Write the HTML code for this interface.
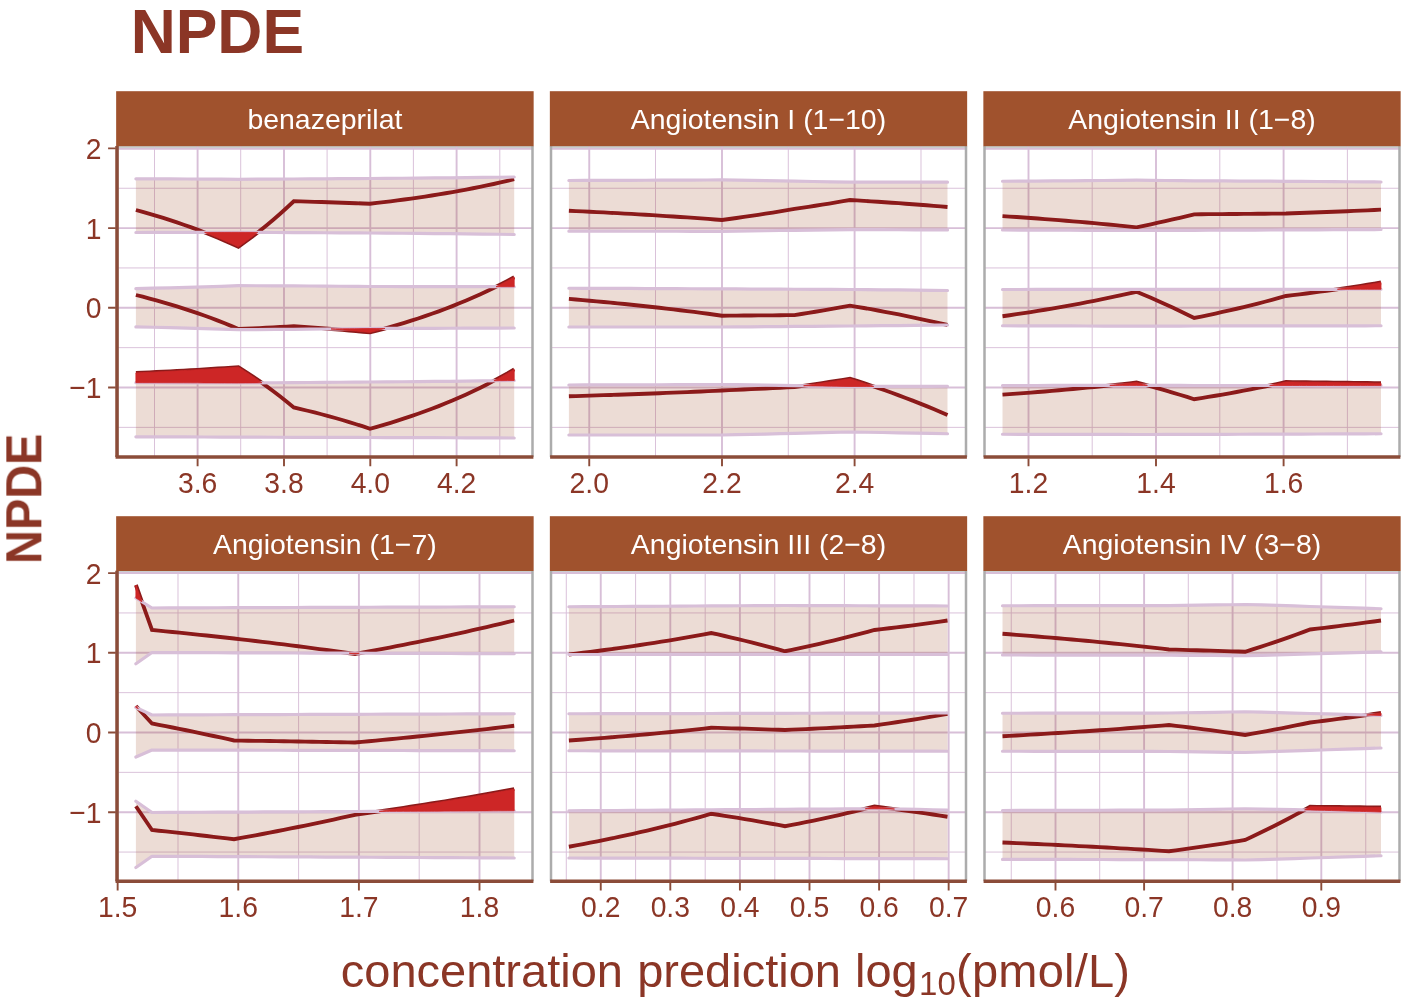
<!DOCTYPE html>
<html lang="en"><head><meta charset="utf-8"><title>NPDE</title>
<style>html,body{margin:0;padding:0;background:#fff}svg{display:block;will-change:transform}</style></head>
<body>
<svg width="1419" height="1007" viewBox="0 0 1419 1007" font-family="'Liberation Sans', Arial, Helvetica, sans-serif">
<rect width="1419" height="1007" fill="#ffffff"/>
<g opacity="0.999">
<g>
<path d="M117.3 147.1H532.5" fill="none" stroke="#C9CDCD" stroke-width="2"/>
<path d="M117.3 188.25H532.5M117.3 267.95H532.5M117.3 347.65H532.5M117.3 427.35H532.5M154.5 146.5V456.95M240.7 146.5V456.95M327.1 146.5V456.95M413.4 146.5V456.95M499.8 146.5V456.95" stroke="#D8BFD8" stroke-width="0.95" fill="none"/>
<path d="M117.3 148.85H532.5M117.3 228.1H532.5M117.3 307.8H532.5M117.3 387.5H532.5M197.6 146.5V456.95M284 146.5V456.95M370.3 146.5V456.95M456.6 146.5V456.95" stroke="#D8BFD8" stroke-width="1.9" fill="none"/>
<polygon points="135.9,178.8 153,178.87 170.1,178.94 187.2,179.02 204.2,179.1 221.3,179.2 238.4,179.3 256.9,179.21 275.3,179.11 293.8,179 309,178.92 324.2,178.82 339.5,178.72 354.8,178.62 370,178.5 386,178.38 402.1,178.26 418.1,178.12 434.1,177.97 450.1,177.81 466.2,177.63 482.2,177.44 498.2,177.23 514.2,177 514.2,234.5 498.2,234.27 482.2,234.06 466.2,233.87 450.1,233.69 434.1,233.53 418.1,233.38 402.1,233.24 386,233.12 370,233 354.8,232.91 339.5,232.82 324.2,232.74 309,232.67 293.8,232.6 275.3,232.49 256.9,232.39 238.4,232.3 221.3,232.34 204.2,232.38 187.2,232.41 170.1,232.45 153,232.47 135.9,232.5" fill="#A0522D" fill-opacity="0.2"/>
<polygon points="135.9,288.6 153,288.22 170.1,287.8 187.2,287.35 204.2,286.85 221.3,286.3 238.4,285.7 256.9,285.76 275.3,285.83 293.8,285.9 309,286 324.2,286.11 339.5,286.23 354.8,286.36 370,286.5 386,286.52 402.1,286.54 418.1,286.56 434.1,286.59 450.1,286.62 466.2,286.64 482.2,286.68 498.2,286.71 514.2,286.75 514.2,328 498.2,328.08 482.2,328.15 466.2,328.21 450.1,328.27 434.1,328.32 418.1,328.37 402.1,328.42 386,328.46 370,328.5 354.8,328.69 339.5,328.86 324.2,329.02 309,329.16 293.8,329.3 275.3,329.45 256.9,329.58 238.4,329.7 221.3,329.12 204.2,328.59 187.2,328.11 170.1,327.67 153,327.27 135.9,326.9" fill="#A0522D" fill-opacity="0.2"/>
<polygon points="135.9,382.7 153,382.74 170.1,382.78 187.2,382.83 204.2,382.88 221.3,382.94 238.4,383 256.9,382.88 275.3,382.75 293.8,382.6 309,382.5 324.2,382.39 339.5,382.27 354.8,382.14 370,382 386,381.88 402.1,381.76 418.1,381.62 434.1,381.47 450.1,381.31 466.2,381.13 482.2,380.94 498.2,380.73 514.2,380.5 514.2,438 498.2,437.92 482.2,437.85 466.2,437.79 450.1,437.73 434.1,437.68 418.1,437.63 402.1,437.58 386,437.54 370,437.5 354.8,437.45 339.5,437.41 324.2,437.37 309,437.33 293.8,437.3 275.3,437.23 256.9,437.16 238.4,437.1 221.3,437.04 204.2,436.98 187.2,436.93 170.1,436.88 153,436.84 135.9,436.8" fill="#A0522D" fill-opacity="0.2"/>
<polyline points="135.9,210 142.7,211.88 149.6,213.82 156.4,215.84 163.2,217.94 170.1,220.11 176.9,222.36 183.7,224.7 190.6,227.12 197.4,229.64 204.2,232.24 211.1,234.95 217.9,237.75 224.7,240.66 231.6,243.67 238.4,246.8 245.3,241.81 252.2,236.64 259.2,231.27 266.1,225.7 273,219.92 279.9,213.93 286.8,207.71 293.8,201.25 300.7,201.44 307.6,201.63 314.5,201.83 321.5,202.04 328.4,202.26 335.3,202.49 342.3,202.72 349.2,202.96 356.1,203.22 363.1,203.48 370,203.75 376.9,202.96 383.7,202.14 390.6,201.29 397.5,200.41 404.3,199.5 411.2,198.55 418.1,197.57 425,196.55 431.8,195.49 438.7,194.39 445.6,193.25 452.4,192.07 459.3,190.85 466.2,189.58 473,188.26 479.9,186.89 486.8,185.47 493.6,184 500.5,182.48 507.4,180.89 514.2,179.25" fill="none" stroke="#8B1A1A" stroke-width="3.85" stroke-linejoin="miter"/>
<polyline points="135.9,295 142.7,296.73 149.6,298.53 156.4,300.4 163.2,302.33 170.1,304.34 176.9,306.42 183.7,308.58 190.6,310.82 197.4,313.14 204.2,315.55 211.1,318.05 217.9,320.64 224.7,323.32 231.6,326.11 238.4,329 245.3,328.7 252.2,328.39 259.2,328.06 266.1,327.73 273,327.38 279.9,327.02 286.8,326.64 293.8,326.25 300.7,326.71 307.6,327.19 314.5,327.69 321.5,328.2 328.4,328.74 335.3,329.29 342.3,329.87 349.2,330.47 356.1,331.09 363.1,331.73 370,332.4 376.9,330.62 383.7,328.78 390.6,326.86 397.5,324.88 404.3,322.82 411.2,320.69 418.1,318.47 425,316.17 431.8,313.79 438.7,311.32 445.6,308.75 452.4,306.09 459.3,303.33 466.2,300.47 473,297.5 479.9,294.42 486.8,291.22 493.6,287.91 500.5,284.47 507.4,280.9 514.2,277.2" fill="none" stroke="#8B1A1A" stroke-width="3.85" stroke-linejoin="miter"/>
<polyline points="135.9,372.9 142.7,372.6 149.6,372.3 156.4,371.98 163.2,371.65 170.1,371.31 176.9,370.95 183.7,370.58 190.6,370.2 197.4,369.81 204.2,369.39 211.1,368.97 217.9,368.53 224.7,368.07 231.6,367.59 238.4,367.1 245.3,371.52 252.2,376.11 259.2,380.87 266.1,385.81 273,390.94 279.9,396.26 286.8,401.77 293.8,407.5 300.7,409.09 307.6,410.75 314.5,412.47 321.5,414.25 328.4,416.1 335.3,418.02 342.3,420.01 349.2,422.07 356.1,424.22 363.1,426.44 370,428.75 376.9,426.84 383.7,424.86 390.6,422.8 397.5,420.67 404.3,418.45 411.2,416.16 418.1,413.77 425,411.3 431.8,408.74 438.7,406.08 445.6,403.32 452.4,400.46 459.3,397.5 466.2,394.42 473,391.22 479.9,387.91 486.8,384.48 493.6,380.91 500.5,377.21 507.4,373.38 514.2,369.4" fill="none" stroke="#8B1A1A" stroke-width="3.85" stroke-linejoin="miter"/>
<polyline points="135.9,178.8 153,178.87 170.1,178.94 187.2,179.02 204.2,179.1 221.3,179.2 238.4,179.3 256.9,179.21 275.3,179.11 293.8,179 309,178.92 324.2,178.82 339.5,178.72 354.8,178.62 370,178.5 386,178.38 402.1,178.26 418.1,178.12 434.1,177.97 450.1,177.81 466.2,177.63 482.2,177.44 498.2,177.23 514.2,177" fill="none" stroke="#D8BFD8" stroke-width="3.2" stroke-linecap="round" stroke-linejoin="round"/>
<polyline points="135.9,232.5 153,232.47 170.1,232.45 187.2,232.41 204.2,232.38 221.3,232.34 238.4,232.3 256.9,232.39 275.3,232.49 293.8,232.6 309,232.67 324.2,232.74 339.5,232.82 354.8,232.91 370,233 386,233.12 402.1,233.24 418.1,233.38 434.1,233.53 450.1,233.69 466.2,233.87 482.2,234.06 498.2,234.27 514.2,234.5" fill="none" stroke="#D8BFD8" stroke-width="3.2" stroke-linecap="round" stroke-linejoin="round"/>
<polyline points="135.9,288.6 153,288.22 170.1,287.8 187.2,287.35 204.2,286.85 221.3,286.3 238.4,285.7 256.9,285.76 275.3,285.83 293.8,285.9 309,286 324.2,286.11 339.5,286.23 354.8,286.36 370,286.5 386,286.52 402.1,286.54 418.1,286.56 434.1,286.59 450.1,286.62 466.2,286.64 482.2,286.68 498.2,286.71 514.2,286.75" fill="none" stroke="#D8BFD8" stroke-width="3.2" stroke-linecap="round" stroke-linejoin="round"/>
<polyline points="135.9,326.9 153,327.27 170.1,327.67 187.2,328.11 204.2,328.59 221.3,329.12 238.4,329.7 256.9,329.58 275.3,329.45 293.8,329.3 309,329.16 324.2,329.02 339.5,328.86 354.8,328.69 370,328.5 386,328.46 402.1,328.42 418.1,328.37 434.1,328.32 450.1,328.27 466.2,328.21 482.2,328.15 498.2,328.08 514.2,328" fill="none" stroke="#D8BFD8" stroke-width="3.2" stroke-linecap="round" stroke-linejoin="round"/>
<polyline points="135.9,382.7 153,382.74 170.1,382.78 187.2,382.83 204.2,382.88 221.3,382.94 238.4,383 256.9,382.88 275.3,382.75 293.8,382.6 309,382.5 324.2,382.39 339.5,382.27 354.8,382.14 370,382 386,381.88 402.1,381.76 418.1,381.62 434.1,381.47 450.1,381.31 466.2,381.13 482.2,380.94 498.2,380.73 514.2,380.5" fill="none" stroke="#D8BFD8" stroke-width="3.2" stroke-linecap="round" stroke-linejoin="round"/>
<polyline points="135.9,436.8 153,436.84 170.1,436.88 187.2,436.93 204.2,436.98 221.3,437.04 238.4,437.1 256.9,437.16 275.3,437.23 293.8,437.3 309,437.33 324.2,437.37 339.5,437.41 354.8,437.45 370,437.5 386,437.54 402.1,437.58 418.1,437.63 434.1,437.68 450.1,437.73 466.2,437.79 482.2,437.85 498.2,437.92 514.2,438" fill="none" stroke="#D8BFD8" stroke-width="3.2" stroke-linecap="round" stroke-linejoin="round"/>
<polygon points="204.6,232.38 211.1,234.95 217.9,237.75 221.3,239.2 224.7,240.66 231.6,243.67 238.4,246.8 245.3,241.81 252.2,236.64 256.9,233.06 257.7,232.39 257.7,232.39 256.9,232.39 252.2,232.37 245.3,232.33 238.4,232.3 231.6,232.32 224.7,232.33 221.3,232.34 217.9,232.35 211.1,232.36 204.6,232.38" fill="#CD2626" stroke="#CD2626" stroke-width="0.8" stroke-linejoin="round"/>
<polygon points="496,286.71 498.2,285.61 500.5,284.47 507.4,280.9 514.2,277.2 514.2,286.75 507.4,286.73 500.5,286.72 498.2,286.71 496,286.71" fill="#CD2626" stroke="#CD2626" stroke-width="0.8" stroke-linejoin="round"/>
<polygon points="331,328.95 335.3,329.29 339.5,329.64 342.3,329.87 349.2,330.47 354.8,330.96 356.1,331.09 363.1,331.73 370,332.4 376.9,330.62 383.7,328.78 384.9,328.46 384.9,328.46 383.7,328.47 376.9,328.48 370,328.5 363.1,328.59 356.1,328.67 354.8,328.69 349.2,328.75 342.3,328.83 339.5,328.86 335.3,328.9 331,328.95" fill="#CD2626" stroke="#CD2626" stroke-width="0.8" stroke-linejoin="round"/>
<polygon points="135.9,372.9 142.7,372.6 149.6,372.3 153,372.14 156.4,371.98 163.2,371.65 170.1,371.31 176.9,370.95 183.7,370.58 187.2,370.39 190.6,370.2 197.4,369.81 204.2,369.39 211.1,368.97 217.9,368.53 221.3,368.3 224.7,368.07 231.6,367.59 238.4,367.1 245.3,371.52 252.2,376.11 256.9,379.28 259.2,380.87 261.9,382.84 261.9,382.84 259.2,382.86 256.9,382.88 252.2,382.91 245.3,382.95 238.4,383 231.6,382.98 224.7,382.95 221.3,382.94 217.9,382.93 211.1,382.9 204.2,382.88 197.4,382.86 190.6,382.84 187.2,382.83 183.7,382.82 176.9,382.8 170.1,382.78 163.2,382.77 156.4,382.75 153,382.74 149.6,382.73 142.7,382.72 135.9,382.7" fill="#CD2626" stroke="#CD2626" stroke-width="0.8" stroke-linejoin="round"/>
<polygon points="493.9,380.79 498.2,378.45 500.5,377.21 507.4,373.38 514.2,369.4 514.2,380.5 507.4,380.6 500.5,380.7 498.2,380.73 493.9,380.79" fill="#CD2626" stroke="#CD2626" stroke-width="0.8" stroke-linejoin="round"/>
<path d="M117.3 146.1V456.95M532.5 146.1V456.95" fill="none" stroke="#ACACAC" stroke-width="2.5"/>
<rect x="116.15" y="91.2" width="417.5" height="55" fill="#A0522D"/>
<text x="324.9" y="128.8" font-size="28.45" fill="#ffffff" text-anchor="middle" opacity="0.999">benazeprilat</text>
<path d="M115.55 456.95H533.4" stroke="#8B4C39" stroke-width="3.5" fill="none"/>
<path d="M197.6 458.45V466.15M284 458.45V466.15M370.3 458.45V466.15M456.6 458.45V466.15" stroke="#8B4C39" stroke-width="1.9" fill="none"/>
<text transform="translate(197.6,492.75) scale(1,1.07)" font-size="28.3" fill="#8B3626" text-anchor="middle">3.6</text>
<text transform="translate(284,492.75) scale(1,1.07)" font-size="28.3" fill="#8B3626" text-anchor="middle">3.8</text>
<text transform="translate(370.3,492.75) scale(1,1.07)" font-size="28.3" fill="#8B3626" text-anchor="middle">4.0</text>
<text transform="translate(456.6,492.75) scale(1,1.07)" font-size="28.3" fill="#8B3626" text-anchor="middle">4.2</text>
<path d="M117 145.9V456.95" stroke="#8B4C39" stroke-width="3.5" fill="none"/>
<path d="M108.1 148.4H115.8M108.1 228.1H115.8M108.1 307.8H115.8M108.1 387.5H115.8" stroke="#8B4C39" stroke-width="1.9" fill="none"/>
<text transform="translate(101.4,158.8) scale(1,1.07)" font-size="28.3" fill="#8B3626" text-anchor="end">2</text>
<text transform="translate(101.4,238.5) scale(1,1.07)" font-size="28.3" fill="#8B3626" text-anchor="end">1</text>
<text transform="translate(101.4,318.2) scale(1,1.07)" font-size="28.3" fill="#8B3626" text-anchor="end">0</text>
<text transform="translate(101.4,397.9) scale(1,1.07)" font-size="28.3" fill="#8B3626" text-anchor="end">−1</text>
</g>
<g>
<path d="M551 147.1H966" fill="none" stroke="#C9CDCD" stroke-width="2"/>
<path d="M551 188.25H966M551 267.95H966M551 347.65H966M551 427.35H966M655.5 146.5V456.95M788.3 146.5V456.95M921 146.5V456.95" stroke="#D8BFD8" stroke-width="0.95" fill="none"/>
<path d="M551 148.85H966M551 228.1H966M551 307.8H966M551 387.5H966M589.25 146.5V456.95M722 146.5V456.95M854.6 146.5V456.95" stroke="#D8BFD8" stroke-width="1.9" fill="none"/>
<polygon points="568.9,180.5 584.2,180.45 599.5,180.4 614.8,180.35 630.1,180.3 645.5,180.24 660.8,180.18 676.1,180.11 691.4,180.05 706.7,179.98 722,179.9 736.5,180.13 751,180.38 765.5,180.64 780,180.91 794.5,181.2 813,181.51 831.5,181.85 850,182.2 866.2,182.2 882.5,182.2 898.8,182.2 915,182.2 931.2,182.2 947.5,182.2 947.5,229.9 931.2,229.84 915,229.79 898.8,229.74 882.5,229.69 866.2,229.64 850,229.6 831.5,229.85 813,230.08 794.5,230.3 780,230.52 765.5,230.73 751,230.93 736.5,231.12 722,231.3 706.7,231.29 691.4,231.28 676.1,231.26 660.8,231.25 645.5,231.24 630.1,231.23 614.8,231.22 599.5,231.22 584.2,231.21 568.9,231.2" fill="#A0522D" fill-opacity="0.2"/>
<polygon points="568.9,288.25 584.2,288.3 599.5,288.35 614.8,288.41 630.1,288.47 645.5,288.53 660.8,288.6 676.1,288.67 691.4,288.74 706.7,288.82 722,288.9 736.5,288.96 751,289.03 765.5,289.1 780,289.17 794.5,289.25 813,289.33 831.5,289.41 850,289.5 866.2,289.64 882.5,289.8 898.8,289.96 915,290.13 931.2,290.31 947.5,290.5 947.5,325 931.2,325.19 915,325.37 898.8,325.54 882.5,325.7 866.2,325.86 850,326 831.5,326.14 813,326.28 794.5,326.4 780,326.53 765.5,326.66 751,326.78 736.5,326.89 722,327 706.7,327 691.4,327 676.1,327 660.8,327 645.5,327 630.1,327 614.8,327 599.5,327 584.2,327 568.9,327" fill="#A0522D" fill-opacity="0.2"/>
<polygon points="568.9,385 584.2,384.96 599.5,384.92 614.8,384.88 630.1,384.83 645.5,384.78 660.8,384.73 676.1,384.68 691.4,384.62 706.7,384.56 722,384.5 736.5,384.7 751,384.91 765.5,385.13 780,385.36 794.5,385.6 813,385.88 831.5,386.18 850,386.5 866.2,386.46 882.5,386.43 898.8,386.39 915,386.34 931.2,386.3 947.5,386.25 947.5,433.75 931.2,433.42 915,433.1 898.8,432.8 882.5,432.52 866.2,432.25 850,432 831.5,432.46 813,432.89 794.5,433.3 780,433.68 765.5,434.03 751,434.37 736.5,434.69 722,435 706.7,435 691.4,435 676.1,435 660.8,435 645.5,435 630.1,435 614.8,435 599.5,435 584.2,435 568.9,435" fill="#A0522D" fill-opacity="0.2"/>
<polyline points="568.9,210.75 575.9,211.07 582.8,211.4 589.8,211.74 596.7,212.09 603.7,212.44 610.7,212.81 617.6,213.18 624.6,213.56 631.5,213.95 638.5,214.35 645.5,214.76 652.4,215.18 659.4,215.62 666.3,216.06 673.3,216.51 680.2,216.97 687.2,217.45 694.2,217.93 701.1,218.43 708.1,218.94 715,219.46 722,220 729.2,219.01 736.5,218 743.8,216.96 751,215.89 758.2,214.8 765.5,213.68 772.8,212.53 780,211.35 787.2,210.14 794.5,208.9 801.4,207.88 808.4,206.83 815.3,205.76 822.2,204.66 829.2,203.54 836.1,202.39 843.1,201.21 850,200 857,200.43 863.9,200.86 870.9,201.31 877.9,201.76 884.8,202.23 891.8,202.71 898.8,203.2 905.7,203.71 912.7,204.22 919.6,204.75 926.6,205.29 933.6,205.85 940.5,206.42 947.5,207" fill="none" stroke="#8B1A1A" stroke-width="3.85" stroke-linejoin="miter"/>
<polyline points="568.9,298.95 575.9,299.53 582.8,300.13 589.8,300.74 596.7,301.37 603.7,302.02 610.7,302.67 617.6,303.35 624.6,304.04 631.5,304.75 638.5,305.47 645.5,306.22 652.4,306.98 659.4,307.76 666.3,308.56 673.3,309.38 680.2,310.22 687.2,311.08 694.2,311.96 701.1,312.86 708.1,313.78 715,314.73 722,315.7 729.2,315.65 736.5,315.59 743.8,315.54 751,315.48 758.2,315.42 765.5,315.36 772.8,315.3 780,315.23 787.2,315.17 794.5,315.1 801.4,314.01 808.4,312.89 815.3,311.75 822.2,310.58 829.2,309.38 836.1,308.15 843.1,306.89 850,305.6 857,306.78 863.9,307.99 870.9,309.22 877.9,310.49 884.8,311.79 891.8,313.12 898.8,314.48 905.7,315.88 912.7,317.31 919.6,318.77 926.6,320.27 933.6,321.81 940.5,323.39 947.5,325" fill="none" stroke="#8B1A1A" stroke-width="3.85" stroke-linejoin="miter"/>
<polyline points="568.9,396.25 575.9,396.05 582.8,395.84 589.8,395.63 596.7,395.42 603.7,395.2 610.7,394.97 617.6,394.74 624.6,394.5 631.5,394.26 638.5,394.01 645.5,393.75 652.4,393.49 659.4,393.23 666.3,392.95 673.3,392.67 680.2,392.38 687.2,392.09 694.2,391.78 701.1,391.48 708.1,391.16 715,390.83 722,390.5 729.2,390.19 736.5,389.87 743.8,389.54 751,389.2 758.2,388.86 765.5,388.51 772.8,388.14 780,387.77 787.2,387.39 794.5,387 801.4,386.05 808.4,385.07 815.3,384.07 822.2,383.05 829.2,382 836.1,380.93 843.1,379.83 850,378.7 857,380.91 863.9,383.16 870.9,385.48 877.9,387.85 884.8,390.28 891.8,392.77 898.8,395.32 905.7,397.93 912.7,400.61 919.6,403.35 926.6,406.16 933.6,409.03 940.5,411.98 947.5,415" fill="none" stroke="#8B1A1A" stroke-width="3.85" stroke-linejoin="miter"/>
<polyline points="568.9,180.5 584.2,180.45 599.5,180.4 614.8,180.35 630.1,180.3 645.5,180.24 660.8,180.18 676.1,180.11 691.4,180.05 706.7,179.98 722,179.9 736.5,180.13 751,180.38 765.5,180.64 780,180.91 794.5,181.2 813,181.51 831.5,181.85 850,182.2 866.2,182.2 882.5,182.2 898.8,182.2 915,182.2 931.2,182.2 947.5,182.2" fill="none" stroke="#D8BFD8" stroke-width="3.2" stroke-linecap="round" stroke-linejoin="round"/>
<polyline points="568.9,231.2 584.2,231.21 599.5,231.22 614.8,231.22 630.1,231.23 645.5,231.24 660.8,231.25 676.1,231.26 691.4,231.28 706.7,231.29 722,231.3 736.5,231.12 751,230.93 765.5,230.73 780,230.52 794.5,230.3 813,230.08 831.5,229.85 850,229.6 866.2,229.64 882.5,229.69 898.8,229.74 915,229.79 931.2,229.84 947.5,229.9" fill="none" stroke="#D8BFD8" stroke-width="3.2" stroke-linecap="round" stroke-linejoin="round"/>
<polyline points="568.9,288.25 584.2,288.3 599.5,288.35 614.8,288.41 630.1,288.47 645.5,288.53 660.8,288.6 676.1,288.67 691.4,288.74 706.7,288.82 722,288.9 736.5,288.96 751,289.03 765.5,289.1 780,289.17 794.5,289.25 813,289.33 831.5,289.41 850,289.5 866.2,289.64 882.5,289.8 898.8,289.96 915,290.13 931.2,290.31 947.5,290.5" fill="none" stroke="#D8BFD8" stroke-width="3.2" stroke-linecap="round" stroke-linejoin="round"/>
<polyline points="568.9,327 584.2,327 599.5,327 614.8,327 630.1,327 645.5,327 660.8,327 676.1,327 691.4,327 706.7,327 722,327 736.5,326.89 751,326.78 765.5,326.66 780,326.53 794.5,326.4 813,326.28 831.5,326.14 850,326 866.2,325.86 882.5,325.7 898.8,325.54 915,325.37 931.2,325.19 947.5,325" fill="none" stroke="#D8BFD8" stroke-width="3.2" stroke-linecap="round" stroke-linejoin="round"/>
<polyline points="568.9,385 584.2,384.96 599.5,384.92 614.8,384.88 630.1,384.83 645.5,384.78 660.8,384.73 676.1,384.68 691.4,384.62 706.7,384.56 722,384.5 736.5,384.7 751,384.91 765.5,385.13 780,385.36 794.5,385.6 813,385.88 831.5,386.18 850,386.5 866.2,386.46 882.5,386.43 898.8,386.39 915,386.34 931.2,386.3 947.5,386.25" fill="none" stroke="#D8BFD8" stroke-width="3.2" stroke-linecap="round" stroke-linejoin="round"/>
<polyline points="568.9,435 584.2,435 599.5,435 614.8,435 630.1,435 645.5,435 660.8,435 676.1,435 691.4,435 706.7,435 722,435 736.5,434.69 751,434.37 765.5,434.03 780,433.68 794.5,433.3 813,432.89 831.5,432.46 850,432 866.2,432.25 882.5,432.52 898.8,432.8 915,433.1 931.2,433.42 947.5,433.75" fill="none" stroke="#D8BFD8" stroke-width="3.2" stroke-linecap="round" stroke-linejoin="round"/>
<polygon points="803.6,385.74 808.4,385.07 813,384.41 815.3,384.07 822.2,383.05 829.2,382 831.5,381.64 836.1,380.93 843.1,379.83 850,378.7 857,380.91 863.9,383.16 866.2,383.94 870.9,385.48 873.7,386.45 873.7,386.45 870.9,386.45 866.2,386.46 863.9,386.47 857,386.48 850,386.5 843.1,386.38 836.1,386.26 831.5,386.18 829.2,386.14 822.2,386.03 815.3,385.92 813,385.88 808.4,385.81 803.6,385.74" fill="#CD2626" stroke="#CD2626" stroke-width="0.8" stroke-linejoin="round"/>
<path d="M551 146.1V456.95M966 146.1V456.95" fill="none" stroke="#ACACAC" stroke-width="2.5"/>
<rect x="549.85" y="91.2" width="417.3" height="55" fill="#A0522D"/>
<text x="758.5" y="128.8" font-size="28.45" fill="#ffffff" text-anchor="middle" opacity="0.999">Angiotensin I (1−10)</text>
<path d="M550.1 456.95H966.9" stroke="#8B4C39" stroke-width="3.5" fill="none"/>
<path d="M589.25 458.45V466.15M722 458.45V466.15M854.6 458.45V466.15" stroke="#8B4C39" stroke-width="1.9" fill="none"/>
<text transform="translate(589.25,492.75) scale(1,1.07)" font-size="28.3" fill="#8B3626" text-anchor="middle">2.0</text>
<text transform="translate(722,492.75) scale(1,1.07)" font-size="28.3" fill="#8B3626" text-anchor="middle">2.2</text>
<text transform="translate(854.6,492.75) scale(1,1.07)" font-size="28.3" fill="#8B3626" text-anchor="middle">2.4</text>
</g>
<g>
<path d="M984.5 147.1H1399.5" fill="none" stroke="#C9CDCD" stroke-width="2"/>
<path d="M984.5 188.25H1399.5M984.5 267.95H1399.5M984.5 347.65H1399.5M984.5 427.35H1399.5M1092.2 146.5V456.95M1219.8 146.5V456.95M1347.4 146.5V456.95" stroke="#D8BFD8" stroke-width="0.95" fill="none"/>
<path d="M984.5 148.85H1399.5M984.5 228.1H1399.5M984.5 307.8H1399.5M984.5 387.5H1399.5M1028.5 146.5V456.95M1156 146.5V456.95M1283.6 146.5V456.95" stroke="#D8BFD8" stroke-width="1.9" fill="none"/>
<polygon points="1002.5,181.25 1019.2,181.14 1036,181.03 1052.8,180.91 1069.5,180.79 1086.2,180.65 1103,180.51 1119.8,180.36 1136.5,180.2 1150.9,180.34 1165.3,180.48 1179.8,180.64 1194.2,180.8 1209.5,180.87 1224.8,180.95 1240.1,181.03 1255.4,181.11 1270.7,181.2 1286,181.3 1301.8,181.4 1317.7,181.51 1333.5,181.62 1349.3,181.74 1365.2,181.87 1381,182 1381,229.5 1365.2,229.58 1349.3,229.65 1333.5,229.72 1317.7,229.78 1301.8,229.84 1286,229.9 1270.7,229.98 1255.4,230.05 1240.1,230.12 1224.8,230.18 1209.5,230.24 1194.2,230.3 1179.8,230.35 1165.3,230.41 1150.9,230.45 1136.5,230.5 1119.8,230.42 1103,230.35 1086.2,230.28 1069.5,230.22 1052.8,230.16 1036,230.1 1019.2,230.05 1002.5,230" fill="#A0522D" fill-opacity="0.2"/>
<polygon points="1002.5,289.5 1019.2,289.48 1036,289.46 1052.8,289.44 1069.5,289.41 1086.2,289.39 1103,289.36 1119.8,289.33 1136.5,289.3 1150.9,289.32 1165.3,289.35 1179.8,289.37 1194.2,289.4 1209.5,289.39 1224.8,289.37 1240.1,289.35 1255.4,289.34 1270.7,289.32 1286,289.3 1301.8,289.29 1317.7,289.29 1333.5,289.28 1349.3,289.27 1365.2,289.26 1381,289.25 1381,325.75 1365.2,325.78 1349.3,325.81 1333.5,325.83 1317.7,325.86 1301.8,325.88 1286,325.9 1270.7,325.92 1255.4,325.94 1240.1,325.95 1224.8,325.97 1209.5,325.99 1194.2,326 1179.8,326.05 1165.3,326.11 1150.9,326.15 1136.5,326.2 1119.8,326.13 1103,326.07 1086.2,326.01 1069.5,325.95 1052.8,325.89 1036,325.84 1019.2,325.8 1002.5,325.75" fill="#A0522D" fill-opacity="0.2"/>
<polygon points="1002.5,385.5 1019.2,385.49 1036,385.48 1052.8,385.47 1069.5,385.46 1086.2,385.44 1103,385.43 1119.8,385.42 1136.5,385.4 1150.9,385.42 1165.3,385.45 1179.8,385.47 1194.2,385.5 1209.5,385.5 1224.8,385.5 1240.1,385.5 1255.4,385.5 1270.7,385.5 1286,385.5 1301.8,385.51 1317.7,385.53 1333.5,385.55 1349.3,385.56 1365.2,385.58 1381,385.6 1381,433.75 1365.2,433.82 1349.3,433.88 1333.5,433.94 1317.7,434 1301.8,434.05 1286,434.1 1270.7,434.16 1255.4,434.21 1240.1,434.26 1224.8,434.31 1209.5,434.36 1194.2,434.4 1179.8,434.43 1165.3,434.45 1150.9,434.48 1136.5,434.5 1119.8,434.46 1103,434.43 1086.2,434.39 1069.5,434.36 1052.8,434.33 1036,434.3 1019.2,434.28 1002.5,434.25" fill="#A0522D" fill-opacity="0.2"/>
<polyline points="1002.5,216.1 1009.6,216.56 1016.6,217.04 1023.7,217.53 1030.7,218.03 1037.8,218.54 1044.8,219.07 1051.9,219.61 1058.9,220.17 1066,220.74 1073,221.32 1080.1,221.92 1087.1,222.53 1094.2,223.16 1101.2,223.81 1108.3,224.47 1115.3,225.15 1122.4,225.85 1129.4,226.57 1136.5,227.3 1143.7,225.82 1150.9,224.3 1158.1,222.74 1165.3,221.14 1172.6,219.49 1179.8,217.81 1187,216.08 1194.2,214.3 1201.3,214.25 1208.3,214.19 1215.4,214.14 1222.4,214.08 1229.5,214.02 1236.6,213.96 1243.6,213.9 1250.7,213.84 1257.8,213.77 1264.8,213.71 1271.9,213.64 1278.9,213.57 1286,213.5 1292.8,213.27 1299.6,213.03 1306.4,212.79 1313.1,212.54 1319.9,212.29 1326.7,212.03 1333.5,211.76 1340.3,211.49 1347.1,211.21 1353.9,210.92 1360.6,210.63 1367.4,210.33 1374.2,210.02 1381,209.7" fill="none" stroke="#8B1A1A" stroke-width="3.85" stroke-linejoin="miter"/>
<polyline points="1002.5,316.25 1009.6,315.23 1016.6,314.19 1023.7,313.12 1030.7,312.03 1037.8,310.9 1044.8,309.75 1051.9,308.57 1058.9,307.35 1066,306.11 1073,304.83 1080.1,303.52 1087.1,302.18 1094.2,300.8 1101.2,299.39 1108.3,297.94 1115.3,296.45 1122.4,294.92 1129.4,293.36 1136.5,291.75 1143.7,294.74 1150.9,297.81 1158.1,300.96 1165.3,304.19 1172.6,307.51 1179.8,310.92 1187,314.41 1194.2,318 1201.3,316.55 1208.3,315.07 1215.4,313.55 1222.4,311.99 1229.5,310.39 1236.6,308.75 1243.6,307.06 1250.7,305.33 1257.8,303.56 1264.8,301.74 1271.9,299.88 1278.9,297.96 1286,296 1292.8,295.18 1299.6,294.34 1306.4,293.48 1313.1,292.6 1319.9,291.7 1326.7,290.78 1333.5,289.83 1340.3,288.86 1347.1,287.86 1353.9,286.84 1360.6,285.79 1367.4,284.72 1374.2,283.63 1381,282.5" fill="none" stroke="#8B1A1A" stroke-width="3.85" stroke-linejoin="miter"/>
<polyline points="1002.5,394.7 1009.6,394.19 1016.6,393.68 1023.7,393.14 1030.7,392.6 1037.8,392.04 1044.8,391.46 1051.9,390.87 1058.9,390.27 1066,389.65 1073,389.01 1080.1,388.36 1087.1,387.69 1094.2,387.01 1101.2,386.3 1108.3,385.58 1115.3,384.84 1122.4,384.08 1129.4,383.3 1136.5,382.5 1143.7,384.41 1150.9,386.37 1158.1,388.38 1165.3,390.44 1172.6,392.56 1179.8,394.73 1187,396.96 1194.2,399.25 1201.3,398.12 1208.3,396.95 1215.4,395.76 1222.4,394.54 1229.5,393.28 1236.6,391.99 1243.6,390.67 1250.7,389.32 1257.8,387.93 1264.8,386.5 1271.9,385.04 1278.9,383.54 1286,382 1292.8,382.08 1299.6,382.15 1306.4,382.23 1313.1,382.31 1319.9,382.4 1326.7,382.48 1333.5,382.57 1340.3,382.66 1347.1,382.75 1353.9,382.85 1360.6,382.94 1367.4,383.04 1374.2,383.15 1381,383.25" fill="none" stroke="#8B1A1A" stroke-width="3.85" stroke-linejoin="miter"/>
<polyline points="1002.5,181.25 1019.2,181.14 1036,181.03 1052.8,180.91 1069.5,180.79 1086.2,180.65 1103,180.51 1119.8,180.36 1136.5,180.2 1150.9,180.34 1165.3,180.48 1179.8,180.64 1194.2,180.8 1209.5,180.87 1224.8,180.95 1240.1,181.03 1255.4,181.11 1270.7,181.2 1286,181.3 1301.8,181.4 1317.7,181.51 1333.5,181.62 1349.3,181.74 1365.2,181.87 1381,182" fill="none" stroke="#D8BFD8" stroke-width="3.2" stroke-linecap="round" stroke-linejoin="round"/>
<polyline points="1002.5,230 1019.2,230.05 1036,230.1 1052.8,230.16 1069.5,230.22 1086.2,230.28 1103,230.35 1119.8,230.42 1136.5,230.5 1150.9,230.45 1165.3,230.41 1179.8,230.35 1194.2,230.3 1209.5,230.24 1224.8,230.18 1240.1,230.12 1255.4,230.05 1270.7,229.98 1286,229.9 1301.8,229.84 1317.7,229.78 1333.5,229.72 1349.3,229.65 1365.2,229.58 1381,229.5" fill="none" stroke="#D8BFD8" stroke-width="3.2" stroke-linecap="round" stroke-linejoin="round"/>
<polyline points="1002.5,289.5 1019.2,289.48 1036,289.46 1052.8,289.44 1069.5,289.41 1086.2,289.39 1103,289.36 1119.8,289.33 1136.5,289.3 1150.9,289.32 1165.3,289.35 1179.8,289.37 1194.2,289.4 1209.5,289.39 1224.8,289.37 1240.1,289.35 1255.4,289.34 1270.7,289.32 1286,289.3 1301.8,289.29 1317.7,289.29 1333.5,289.28 1349.3,289.27 1365.2,289.26 1381,289.25" fill="none" stroke="#D8BFD8" stroke-width="3.2" stroke-linecap="round" stroke-linejoin="round"/>
<polyline points="1002.5,325.75 1019.2,325.8 1036,325.84 1052.8,325.89 1069.5,325.95 1086.2,326.01 1103,326.07 1119.8,326.13 1136.5,326.2 1150.9,326.15 1165.3,326.11 1179.8,326.05 1194.2,326 1209.5,325.99 1224.8,325.97 1240.1,325.95 1255.4,325.94 1270.7,325.92 1286,325.9 1301.8,325.88 1317.7,325.86 1333.5,325.83 1349.3,325.81 1365.2,325.78 1381,325.75" fill="none" stroke="#D8BFD8" stroke-width="3.2" stroke-linecap="round" stroke-linejoin="round"/>
<polyline points="1002.5,385.5 1019.2,385.49 1036,385.48 1052.8,385.47 1069.5,385.46 1086.2,385.44 1103,385.43 1119.8,385.42 1136.5,385.4 1150.9,385.42 1165.3,385.45 1179.8,385.47 1194.2,385.5 1209.5,385.5 1224.8,385.5 1240.1,385.5 1255.4,385.5 1270.7,385.5 1286,385.5 1301.8,385.51 1317.7,385.53 1333.5,385.55 1349.3,385.56 1365.2,385.58 1381,385.6" fill="none" stroke="#D8BFD8" stroke-width="3.2" stroke-linecap="round" stroke-linejoin="round"/>
<polyline points="1002.5,434.25 1019.2,434.28 1036,434.3 1052.8,434.33 1069.5,434.36 1086.2,434.39 1103,434.43 1119.8,434.46 1136.5,434.5 1150.9,434.48 1165.3,434.45 1179.8,434.43 1194.2,434.4 1209.5,434.36 1224.8,434.31 1240.1,434.26 1255.4,434.21 1270.7,434.16 1286,434.1 1301.8,434.05 1317.7,434 1333.5,433.94 1349.3,433.88 1365.2,433.82 1381,433.75" fill="none" stroke="#D8BFD8" stroke-width="3.2" stroke-linecap="round" stroke-linejoin="round"/>
<polygon points="1337.4,289.28 1340.3,288.86 1347.1,287.86 1349.3,287.52 1353.9,286.84 1360.6,285.79 1365.2,285.08 1367.4,284.72 1374.2,283.63 1381,282.5 1381,289.25 1374.2,289.25 1367.4,289.26 1365.2,289.26 1360.6,289.26 1353.9,289.27 1349.3,289.27 1347.1,289.27 1340.3,289.27 1337.4,289.28" fill="#CD2626" stroke="#CD2626" stroke-width="0.8" stroke-linejoin="round"/>
<polygon points="1109.8,385.42 1115.3,384.84 1119.8,384.36 1122.4,384.08 1129.4,383.3 1136.5,382.5 1143.7,384.41 1147.4,385.42 1147.4,385.42 1143.7,385.41 1136.5,385.4 1129.4,385.41 1122.4,385.41 1119.8,385.42 1115.3,385.42 1109.8,385.42" fill="#CD2626" stroke="#CD2626" stroke-width="0.8" stroke-linejoin="round"/>
<polygon points="1269.7,385.5 1270.7,385.28 1271.9,385.04 1278.9,383.54 1286,382 1292.8,382.08 1299.6,382.15 1301.8,382.18 1306.4,382.23 1313.1,382.31 1317.7,382.37 1319.9,382.4 1326.7,382.48 1333.5,382.57 1340.3,382.66 1347.1,382.75 1349.3,382.79 1353.9,382.85 1360.6,382.94 1365.2,383.01 1367.4,383.04 1374.2,383.15 1381,383.25 1381,385.6 1374.2,385.59 1367.4,385.58 1365.2,385.58 1360.6,385.58 1353.9,385.57 1349.3,385.56 1347.1,385.56 1340.3,385.55 1333.5,385.55 1326.7,385.54 1319.9,385.53 1317.7,385.53 1313.1,385.53 1306.4,385.52 1301.8,385.51 1299.6,385.51 1292.8,385.51 1286,385.5 1278.9,385.5 1271.9,385.5 1270.7,385.5 1269.7,385.5" fill="#CD2626" stroke="#CD2626" stroke-width="0.8" stroke-linejoin="round"/>
<path d="M984.5 146.1V456.95M1399.5 146.1V456.95" fill="none" stroke="#ACACAC" stroke-width="2.5"/>
<rect x="983.35" y="91.2" width="417.3" height="55" fill="#A0522D"/>
<text x="1192" y="128.8" font-size="28.45" fill="#ffffff" text-anchor="middle" opacity="0.999">Angiotensin II (1−8)</text>
<path d="M983.6 456.95H1400.4" stroke="#8B4C39" stroke-width="3.5" fill="none"/>
<path d="M1028.5 458.45V466.15M1156 458.45V466.15M1283.6 458.45V466.15" stroke="#8B4C39" stroke-width="1.9" fill="none"/>
<text transform="translate(1028.5,492.75) scale(1,1.07)" font-size="28.3" fill="#8B3626" text-anchor="middle">1.2</text>
<text transform="translate(1156,492.75) scale(1,1.07)" font-size="28.3" fill="#8B3626" text-anchor="middle">1.4</text>
<text transform="translate(1283.6,492.75) scale(1,1.07)" font-size="28.3" fill="#8B3626" text-anchor="middle">1.6</text>
</g>
<g>
<path d="M117.3 571.9H532.5" fill="none" stroke="#C9CDCD" stroke-width="2"/>
<path d="M117.3 612.95H532.5M117.3 692.65H532.5M117.3 772.35H532.5M117.3 852.05H532.5M178 571.3V881.3M298.6 571.3V881.3M419.2 571.3V881.3" stroke="#D8BFD8" stroke-width="0.95" fill="none"/>
<path d="M117.3 573.05H532.5M117.3 652.8H532.5M117.3 732.5H532.5M117.3 812.2H532.5M238.25 571.3V881.3M358.9 571.3V881.3M479.5 571.3V881.3" stroke="#D8BFD8" stroke-width="1.9" fill="none"/>
<polygon points="135.9,598 152,608 168.4,607.94 184.8,607.89 201.2,607.83 217.6,607.76 234,607.7 249.1,607.65 264.2,607.61 279.4,607.56 294.5,607.51 309.6,607.46 324.8,607.41 339.9,607.36 355,607.3 370.9,607.25 386.9,607.2 402.8,607.15 418.7,607.1 434.6,607.05 450.6,606.99 466.5,606.93 482.4,606.87 498.3,606.81 514.2,606.75 514.2,653.75 498.3,653.69 482.4,653.63 466.5,653.57 450.6,653.51 434.6,653.45 418.7,653.4 402.8,653.35 386.9,653.3 370.9,653.25 355,653.2 339.9,653.14 324.8,653.09 309.6,653.04 294.5,652.99 279.4,652.94 264.2,652.89 249.1,652.85 234,652.8 217.6,652.74 201.2,652.67 184.8,652.61 168.4,652.56 152,652.5 135.9,663.75" fill="#A0522D" fill-opacity="0.2"/>
<polygon points="135.9,707.5 152,715 168.4,714.94 184.8,714.89 201.2,714.83 217.6,714.76 234,714.7 249.1,714.65 264.2,714.61 279.4,714.56 294.5,714.51 309.6,714.46 324.8,714.41 339.9,714.36 355,714.3 370.9,714.25 386.9,714.2 402.8,714.15 418.7,714.1 434.6,714.05 450.6,713.99 466.5,713.93 482.4,713.87 498.3,713.81 514.2,713.75 514.2,750.75 498.3,750.71 482.4,750.67 466.5,750.63 450.6,750.6 434.6,750.56 418.7,750.53 402.8,750.49 386.9,750.46 370.9,750.43 355,750.4 339.9,750.37 324.8,750.35 309.6,750.32 294.5,750.29 279.4,750.27 264.2,750.25 249.1,750.22 234,750.2 217.6,750.16 201.2,750.12 184.8,750.08 168.4,750.04 152,750 135.9,757" fill="#A0522D" fill-opacity="0.2"/>
<polygon points="135.9,801.25 152,812.5 168.4,812.42 184.8,812.35 201.2,812.27 217.6,812.19 234,812.1 249.1,812.03 264.2,811.96 279.4,811.89 294.5,811.82 309.6,811.74 324.8,811.66 339.9,811.58 355,811.5 370.9,811.43 386.9,811.37 402.8,811.3 418.7,811.23 434.6,811.15 450.6,811.08 466.5,811 482.4,810.92 498.3,810.84 514.2,810.75 514.2,858 498.3,857.91 482.4,857.82 466.5,857.73 450.6,857.65 434.6,857.57 418.7,857.49 402.8,857.42 386.9,857.34 370.9,857.27 355,857.2 339.9,857.12 324.8,857.04 309.6,856.96 294.5,856.88 279.4,856.81 264.2,856.74 249.1,856.67 234,856.6 217.6,856.53 201.2,856.45 184.8,856.38 168.4,856.32 152,856.25 135.9,867.5" fill="#A0522D" fill-opacity="0.2"/>
<polyline points="135.9,585 143.9,607.33 152,630 158.8,630.66 165.7,631.33 172.5,632 179.3,632.69 186.2,633.38 193,634.08 199.8,634.8 206.7,635.52 213.5,636.25 220.3,636.99 227.2,637.74 234,638.5 241.1,639.32 248.2,640.14 255.4,640.98 262.5,641.83 269.6,642.69 276.7,643.57 283.8,644.45 290.9,645.35 298.1,646.26 305.2,647.18 312.3,648.12 319.4,649.06 326.5,650.02 333.6,651 340.8,651.99 347.9,652.99 355,654 361.9,652.75 368.8,651.47 375.8,650.19 382.7,648.88 389.6,647.56 396.5,646.22 403.5,644.86 410.4,643.48 417.3,642.09 424.2,640.68 431.2,639.24 438.1,637.79 445,636.32 451.9,634.83 458.9,633.32 465.8,631.79 472.7,630.24 479.6,628.67 486.6,627.08 493.5,625.47 500.4,623.83 507.3,622.18 514.2,620.5" fill="none" stroke="#8B1A1A" stroke-width="3.85" stroke-linejoin="miter"/>
<polyline points="135.9,706 143.9,714.68 152,723.5 158.8,724.82 165.7,726.15 172.5,727.5 179.3,728.87 186.2,730.26 193,731.67 199.8,733.09 206.7,734.54 213.5,736 220.3,737.48 227.2,738.98 234,740.5 241.1,740.61 248.2,740.71 255.4,740.82 262.5,740.93 269.6,741.04 276.7,741.15 283.8,741.27 290.9,741.38 298.1,741.5 305.2,741.62 312.3,741.74 319.4,741.86 326.5,741.99 333.6,742.11 340.8,742.24 347.9,742.37 355,742.5 361.9,741.87 368.8,741.24 375.8,740.59 382.7,739.94 389.6,739.28 396.5,738.61 403.5,737.93 410.4,737.24 417.3,736.54 424.2,735.84 431.2,735.12 438.1,734.4 445,733.66 451.9,732.92 458.9,732.16 465.8,731.4 472.7,730.62 479.6,729.84 486.6,729.04 493.5,728.23 500.4,727.42 507.3,726.59 514.2,725.75" fill="none" stroke="#8B1A1A" stroke-width="3.85" stroke-linejoin="miter"/>
<polyline points="135.9,806.25 143.9,818.03 152,830 158.8,830.72 165.7,831.44 172.5,832.18 179.3,832.92 186.2,833.68 193,834.44 199.8,835.22 206.7,836 213.5,836.8 220.3,837.61 227.2,838.42 234,839.25 241.1,837.96 248.2,836.66 255.4,835.34 262.5,833.99 269.6,832.64 276.7,831.26 283.8,829.86 290.9,828.45 298.1,827.01 305.2,825.56 312.3,824.08 319.4,822.59 326.5,821.07 333.6,819.54 340.8,817.98 347.9,816.4 355,814.8 361.9,813.84 368.8,812.87 375.8,811.89 382.7,810.89 389.6,809.88 396.5,808.85 403.5,807.82 410.4,806.76 417.3,805.7 424.2,804.62 431.2,803.52 438.1,802.41 445,801.29 451.9,800.15 458.9,799 465.8,797.83 472.7,796.65 479.6,795.45 486.6,794.23 493.5,793 500.4,791.75 507.3,790.48 514.2,789.2" fill="none" stroke="#8B1A1A" stroke-width="3.85" stroke-linejoin="miter"/>
<polyline points="135.9,598 152,608 168.4,607.94 184.8,607.89 201.2,607.83 217.6,607.76 234,607.7 249.1,607.65 264.2,607.61 279.4,607.56 294.5,607.51 309.6,607.46 324.8,607.41 339.9,607.36 355,607.3 370.9,607.25 386.9,607.2 402.8,607.15 418.7,607.1 434.6,607.05 450.6,606.99 466.5,606.93 482.4,606.87 498.3,606.81 514.2,606.75" fill="none" stroke="#D8BFD8" stroke-width="3.2" stroke-linecap="round" stroke-linejoin="round"/>
<polyline points="135.9,663.75 152,652.5 168.4,652.56 184.8,652.61 201.2,652.67 217.6,652.74 234,652.8 249.1,652.85 264.2,652.89 279.4,652.94 294.5,652.99 309.6,653.04 324.8,653.09 339.9,653.14 355,653.2 370.9,653.25 386.9,653.3 402.8,653.35 418.7,653.4 434.6,653.45 450.6,653.51 466.5,653.57 482.4,653.63 498.3,653.69 514.2,653.75" fill="none" stroke="#D8BFD8" stroke-width="3.2" stroke-linecap="round" stroke-linejoin="round"/>
<polyline points="135.9,707.5 152,715 168.4,714.94 184.8,714.89 201.2,714.83 217.6,714.76 234,714.7 249.1,714.65 264.2,714.61 279.4,714.56 294.5,714.51 309.6,714.46 324.8,714.41 339.9,714.36 355,714.3 370.9,714.25 386.9,714.2 402.8,714.15 418.7,714.1 434.6,714.05 450.6,713.99 466.5,713.93 482.4,713.87 498.3,713.81 514.2,713.75" fill="none" stroke="#D8BFD8" stroke-width="3.2" stroke-linecap="round" stroke-linejoin="round"/>
<polyline points="135.9,757 152,750 168.4,750.04 184.8,750.08 201.2,750.12 217.6,750.16 234,750.2 249.1,750.22 264.2,750.25 279.4,750.27 294.5,750.29 309.6,750.32 324.8,750.35 339.9,750.37 355,750.4 370.9,750.43 386.9,750.46 402.8,750.49 418.7,750.53 434.6,750.56 450.6,750.6 466.5,750.63 482.4,750.67 498.3,750.71 514.2,750.75" fill="none" stroke="#D8BFD8" stroke-width="3.2" stroke-linecap="round" stroke-linejoin="round"/>
<polyline points="135.9,801.25 152,812.5 168.4,812.42 184.8,812.35 201.2,812.27 217.6,812.19 234,812.1 249.1,812.03 264.2,811.96 279.4,811.89 294.5,811.82 309.6,811.74 324.8,811.66 339.9,811.58 355,811.5 370.9,811.43 386.9,811.37 402.8,811.3 418.7,811.23 434.6,811.15 450.6,811.08 466.5,811 482.4,810.92 498.3,810.84 514.2,810.75" fill="none" stroke="#D8BFD8" stroke-width="3.2" stroke-linecap="round" stroke-linejoin="round"/>
<polyline points="135.9,867.5 152,856.25 168.4,856.32 184.8,856.38 201.2,856.45 217.6,856.53 234,856.6 249.1,856.67 264.2,856.74 279.4,856.81 294.5,856.88 309.6,856.96 324.8,857.04 339.9,857.12 355,857.2 370.9,857.27 386.9,857.34 402.8,857.42 418.7,857.49 434.6,857.57 450.6,857.65 466.5,857.73 482.4,857.82 498.3,857.91 514.2,858" fill="none" stroke="#D8BFD8" stroke-width="3.2" stroke-linecap="round" stroke-linejoin="round"/>
<polygon points="135.9,585 141.9,601.75 141.9,601.75 135.9,598" fill="#CD2626" stroke="#CD2626" stroke-width="0.8" stroke-linejoin="round"/>
<polygon points="349.2,653.18 355,654 359.3,653.21 359.3,653.21 355,653.2 349.2,653.18" fill="#CD2626" stroke="#CD2626" stroke-width="0.8" stroke-linejoin="round"/>
<polygon points="135.9,706 138.3,708.64 138.3,708.64 135.9,707.5" fill="#CD2626" stroke="#CD2626" stroke-width="0.8" stroke-linejoin="round"/>
<polygon points="379.1,811.4 382.7,810.89 386.9,810.28 389.6,809.88 396.5,808.85 402.8,807.92 403.5,807.82 410.4,806.76 417.3,805.7 418.7,805.48 424.2,804.62 431.2,803.52 434.6,802.97 438.1,802.41 445,801.29 450.6,800.38 451.9,800.15 458.9,799 465.8,797.83 466.5,797.71 472.7,796.65 479.6,795.45 482.4,794.96 486.6,794.23 493.5,793 498.3,792.12 500.4,791.75 507.3,790.48 514.2,789.2 514.2,810.75 507.3,810.79 500.4,810.82 498.3,810.84 493.5,810.86 486.6,810.9 482.4,810.92 479.6,810.93 472.7,810.97 466.5,811 465.8,811 458.9,811.04 451.9,811.07 450.6,811.08 445,811.1 438.1,811.14 434.6,811.15 431.2,811.17 424.2,811.2 418.7,811.23 417.3,811.23 410.4,811.26 403.5,811.3 402.8,811.3 396.5,811.33 389.6,811.36 386.9,811.37 382.7,811.39 379.1,811.4" fill="#CD2626" stroke="#CD2626" stroke-width="0.8" stroke-linejoin="round"/>
<path d="M117.3 570.9V881.3M532.5 570.9V881.3" fill="none" stroke="#ACACAC" stroke-width="2.5"/>
<rect x="116.15" y="516.2" width="417.5" height="54.8" fill="#A0522D"/>
<text x="324.9" y="553.8" font-size="28.45" fill="#ffffff" text-anchor="middle" opacity="0.999">Angiotensin (1−7)</text>
<path d="M115.55 881.3H533.4" stroke="#8B4C39" stroke-width="3.5" fill="none"/>
<path d="M117.65 882.8V890.5M238.25 882.8V890.5M358.9 882.8V890.5M479.5 882.8V890.5" stroke="#8B4C39" stroke-width="1.9" fill="none"/>
<text transform="translate(117.65,917.1) scale(1,1.07)" font-size="28.3" fill="#8B3626" text-anchor="middle">1.5</text>
<text transform="translate(238.25,917.1) scale(1,1.07)" font-size="28.3" fill="#8B3626" text-anchor="middle">1.6</text>
<text transform="translate(358.9,917.1) scale(1,1.07)" font-size="28.3" fill="#8B3626" text-anchor="middle">1.7</text>
<text transform="translate(479.5,917.1) scale(1,1.07)" font-size="28.3" fill="#8B3626" text-anchor="middle">1.8</text>
<path d="M117 570.7V881.3" stroke="#8B4C39" stroke-width="3.5" fill="none"/>
<path d="M108.1 573.1H115.8M108.1 652.8H115.8M108.1 732.5H115.8M108.1 812.2H115.8" stroke="#8B4C39" stroke-width="1.9" fill="none"/>
<text transform="translate(101.4,583.5) scale(1,1.07)" font-size="28.3" fill="#8B3626" text-anchor="end">2</text>
<text transform="translate(101.4,663.2) scale(1,1.07)" font-size="28.3" fill="#8B3626" text-anchor="end">1</text>
<text transform="translate(101.4,742.9) scale(1,1.07)" font-size="28.3" fill="#8B3626" text-anchor="end">0</text>
<text transform="translate(101.4,822.6) scale(1,1.07)" font-size="28.3" fill="#8B3626" text-anchor="end">−1</text>
</g>
<g>
<path d="M551 571.9H966" fill="none" stroke="#C9CDCD" stroke-width="2"/>
<path d="M551 612.95H966M551 692.65H966M551 772.35H966M551 852.05H966M566.3 571.3V881.3M635.6 571.3V881.3M705.2 571.3V881.3M774.8 571.3V881.3M844.4 571.3V881.3M914 571.3V881.3" stroke="#D8BFD8" stroke-width="0.95" fill="none"/>
<path d="M551 573.05H966M551 652.8H966M551 732.5H966M551 812.2H966M600.75 571.3V881.3M670.3 571.3V881.3M739.9 571.3V881.3M809.5 571.3V881.3M879.1 571.3V881.3M948.65 571.3V881.3" stroke="#D8BFD8" stroke-width="1.9" fill="none"/>
<polygon points="568.9,606.75 584.7,606.67 600.5,606.59 616.4,606.51 632.2,606.42 648,606.33 663.8,606.23 679.6,606.12 695.4,606.02 711.2,605.9 726,605.83 740.8,605.75 755.5,605.67 770.2,605.59 785,605.5 799.9,605.54 814.8,605.59 829.8,605.64 844.7,605.69 859.6,605.74 874.5,605.8 889.1,605.84 903.7,605.87 918.3,605.91 932.9,605.96 947.5,606 947.5,654.5 932.9,654.5 918.3,654.5 903.7,654.5 889.1,654.5 874.5,654.5 859.6,654.5 844.7,654.5 829.8,654.5 814.8,654.5 799.9,654.5 785,654.5 770.2,654.5 755.5,654.5 740.8,654.5 726,654.5 711.2,654.5 695.4,654.5 679.6,654.5 663.8,654.5 648,654.5 632.2,654.5 616.4,654.5 600.5,654.5 584.7,654.5 568.9,654.5" fill="#A0522D" fill-opacity="0.2"/>
<polygon points="568.9,713.75 584.7,713.73 600.5,713.7 616.4,713.68 632.2,713.65 648,713.63 663.8,713.6 679.6,713.57 695.4,713.53 711.2,713.5 726,713.46 740.8,713.43 755.5,713.39 770.2,713.34 785,713.3 799.9,713.27 814.8,713.24 829.8,713.21 844.7,713.17 859.6,713.14 874.5,713.1 889.1,713.08 903.7,713.06 918.3,713.04 932.9,713.02 947.5,713 947.5,751.25 932.9,751.22 918.3,751.19 903.7,751.16 889.1,751.13 874.5,751.1 859.6,751.08 844.7,751.06 829.8,751.05 814.8,751.03 799.9,751.01 785,751 770.2,750.98 755.5,750.96 740.8,750.94 726,750.92 711.2,750.9 695.4,750.88 679.6,750.86 663.8,750.84 648,750.82 632.2,750.81 616.4,750.79 600.5,750.78 584.7,750.76 568.9,750.75" fill="#A0522D" fill-opacity="0.2"/>
<polygon points="568.9,810.75 584.7,810.67 600.5,810.58 616.4,810.48 632.2,810.38 648,810.28 663.8,810.17 679.6,810.05 695.4,809.93 711.2,809.8 726,809.71 740.8,809.61 755.5,809.51 770.2,809.41 785,809.3 799.9,809.22 814.8,809.13 829.8,809.05 844.7,808.95 859.6,808.85 874.5,808.75 889.1,808.98 903.7,809.21 918.3,809.46 932.9,809.73 947.5,810 947.5,858.75 932.9,858.72 918.3,858.69 903.7,858.66 889.1,858.63 874.5,858.6 859.6,858.56 844.7,858.53 829.8,858.49 814.8,858.46 799.9,858.43 785,858.4 770.2,858.38 755.5,858.36 740.8,858.34 726,858.32 711.2,858.3 695.4,858.26 679.6,858.22 663.8,858.18 648,858.15 632.2,858.12 616.4,858.08 600.5,858.06 584.7,858.03 568.9,858" fill="#A0522D" fill-opacity="0.2"/>
<polyline points="568.9,654.5 576,653.65 583.1,652.78 590.3,651.88 597.4,650.97 604.5,650.03 611.6,649.08 618.7,648.1 625.8,647.09 633,646.06 640.1,645.01 647.2,643.93 654.3,642.83 661.4,641.7 668.5,640.54 675.7,639.36 682.8,638.15 689.9,636.9 697,635.63 704.1,634.33 711.2,633 718,634.48 724.7,636 731.4,637.54 738.1,639.13 744.8,640.75 751.5,642.4 758.2,644.09 764.9,645.82 771.6,647.59 778.3,649.4 785,651.25 791.9,649.83 798.8,648.38 805.7,646.89 812.5,645.37 819.4,643.81 826.3,642.22 833.2,640.59 840.1,638.93 847,637.22 853.8,635.48 860.7,633.69 867.6,631.87 874.5,630 881.8,629.15 889.1,628.28 896.4,627.39 903.7,626.47 911,625.54 918.3,624.58 925.6,623.59 932.9,622.59 940.2,621.56 947.5,620.5" fill="none" stroke="#8B1A1A" stroke-width="3.85" stroke-linejoin="miter"/>
<polyline points="568.9,740.5 576,739.99 583.1,739.48 590.3,738.95 597.4,738.41 604.5,737.85 611.6,737.28 618.7,736.7 625.8,736.11 633,735.5 640.1,734.87 647.2,734.23 654.3,733.58 661.4,732.91 668.5,732.22 675.7,731.52 682.8,730.8 689.9,730.07 697,729.31 704.1,728.54 711.2,727.75 718,727.93 724.7,728.12 731.4,728.31 738.1,728.51 744.8,728.7 751.5,728.91 758.2,729.12 764.9,729.33 771.6,729.55 778.3,729.77 785,730 791.9,729.7 798.8,729.39 805.7,729.08 812.5,728.75 819.4,728.42 826.3,728.09 833.2,727.74 840.1,727.39 847,727.03 853.8,726.66 860.7,726.28 867.6,725.9 874.5,725.5 881.8,724.45 889.1,723.37 896.4,722.27 903.7,721.14 911,719.98 918.3,718.79 925.6,717.58 932.9,716.33 940.2,715.06 947.5,713.75" fill="none" stroke="#8B1A1A" stroke-width="3.85" stroke-linejoin="miter"/>
<polyline points="568.9,846.75 576,845.44 583.1,844.1 590.3,842.73 597.4,841.33 604.5,839.9 611.6,838.43 618.7,836.92 625.8,835.38 633,833.8 640.1,832.18 647.2,830.53 654.3,828.84 661.4,827.1 668.5,825.33 675.7,823.51 682.8,821.65 689.9,819.74 697,817.79 704.1,815.79 711.2,813.75 718,814.76 724.7,815.8 731.4,816.86 738.1,817.95 744.8,819.06 751.5,820.19 758.2,821.35 764.9,822.53 771.6,823.74 778.3,824.98 785,826.25 791.9,824.93 798.8,823.58 805.7,822.2 812.5,820.78 819.4,819.34 826.3,817.86 833.2,816.34 840.1,814.8 847,813.21 853.8,811.59 860.7,809.93 867.6,808.24 874.5,806.5 881.8,807.42 889.1,808.36 896.4,809.32 903.7,810.31 911,811.32 918.3,812.35 925.6,813.41 932.9,814.5 940.2,815.61 947.5,816.75" fill="none" stroke="#8B1A1A" stroke-width="3.85" stroke-linejoin="miter"/>
<polyline points="568.9,606.75 584.7,606.67 600.5,606.59 616.4,606.51 632.2,606.42 648,606.33 663.8,606.23 679.6,606.12 695.4,606.02 711.2,605.9 726,605.83 740.8,605.75 755.5,605.67 770.2,605.59 785,605.5 799.9,605.54 814.8,605.59 829.8,605.64 844.7,605.69 859.6,605.74 874.5,605.8 889.1,605.84 903.7,605.87 918.3,605.91 932.9,605.96 947.5,606" fill="none" stroke="#D8BFD8" stroke-width="3.2" stroke-linecap="round" stroke-linejoin="round"/>
<polyline points="568.9,654.5 584.7,654.5 600.5,654.5 616.4,654.5 632.2,654.5 648,654.5 663.8,654.5 679.6,654.5 695.4,654.5 711.2,654.5 726,654.5 740.8,654.5 755.5,654.5 770.2,654.5 785,654.5 799.9,654.5 814.8,654.5 829.8,654.5 844.7,654.5 859.6,654.5 874.5,654.5 889.1,654.5 903.7,654.5 918.3,654.5 932.9,654.5 947.5,654.5" fill="none" stroke="#D8BFD8" stroke-width="3.2" stroke-linecap="round" stroke-linejoin="round"/>
<polyline points="568.9,713.75 584.7,713.73 600.5,713.7 616.4,713.68 632.2,713.65 648,713.63 663.8,713.6 679.6,713.57 695.4,713.53 711.2,713.5 726,713.46 740.8,713.43 755.5,713.39 770.2,713.34 785,713.3 799.9,713.27 814.8,713.24 829.8,713.21 844.7,713.17 859.6,713.14 874.5,713.1 889.1,713.08 903.7,713.06 918.3,713.04 932.9,713.02 947.5,713" fill="none" stroke="#D8BFD8" stroke-width="3.2" stroke-linecap="round" stroke-linejoin="round"/>
<polyline points="568.9,750.75 584.7,750.76 600.5,750.78 616.4,750.79 632.2,750.81 648,750.82 663.8,750.84 679.6,750.86 695.4,750.88 711.2,750.9 726,750.92 740.8,750.94 755.5,750.96 770.2,750.98 785,751 799.9,751.01 814.8,751.03 829.8,751.05 844.7,751.06 859.6,751.08 874.5,751.1 889.1,751.13 903.7,751.16 918.3,751.19 932.9,751.22 947.5,751.25" fill="none" stroke="#D8BFD8" stroke-width="3.2" stroke-linecap="round" stroke-linejoin="round"/>
<polyline points="568.9,810.75 584.7,810.67 600.5,810.58 616.4,810.48 632.2,810.38 648,810.28 663.8,810.17 679.6,810.05 695.4,809.93 711.2,809.8 726,809.71 740.8,809.61 755.5,809.51 770.2,809.41 785,809.3 799.9,809.22 814.8,809.13 829.8,809.05 844.7,808.95 859.6,808.85 874.5,808.75 889.1,808.98 903.7,809.21 918.3,809.46 932.9,809.73 947.5,810" fill="none" stroke="#D8BFD8" stroke-width="3.2" stroke-linecap="round" stroke-linejoin="round"/>
<polyline points="568.9,858 584.7,858.03 600.5,858.06 616.4,858.08 632.2,858.12 648,858.15 663.8,858.18 679.6,858.22 695.4,858.26 711.2,858.3 726,858.32 740.8,858.34 755.5,858.36 770.2,858.38 785,858.4 799.9,858.43 814.8,858.46 829.8,858.49 844.7,858.53 859.6,858.56 874.5,858.6 889.1,858.63 903.7,858.66 918.3,858.69 932.9,858.72 947.5,858.75" fill="none" stroke="#D8BFD8" stroke-width="3.2" stroke-linecap="round" stroke-linejoin="round"/>
<polygon points="865.3,808.81 867.6,808.24 874.5,806.5 881.8,807.42 889.1,808.36 894.5,809.06 894.5,809.06 889.1,808.98 881.8,808.86 874.5,808.75 867.6,808.8 865.3,808.81" fill="#CD2626" stroke="#CD2626" stroke-width="0.8" stroke-linejoin="round"/>
<path d="M551 570.9V881.3M966 570.9V881.3" fill="none" stroke="#ACACAC" stroke-width="2.5"/>
<rect x="549.85" y="516.2" width="417.3" height="54.8" fill="#A0522D"/>
<text x="758.5" y="553.8" font-size="28.45" fill="#ffffff" text-anchor="middle" opacity="0.999">Angiotensin III (2−8)</text>
<path d="M550.1 881.3H966.9" stroke="#8B4C39" stroke-width="3.5" fill="none"/>
<path d="M600.75 882.8V890.5M670.3 882.8V890.5M739.9 882.8V890.5M809.5 882.8V890.5M879.1 882.8V890.5M948.65 882.8V890.5" stroke="#8B4C39" stroke-width="1.9" fill="none"/>
<text transform="translate(600.75,917.1) scale(1,1.07)" font-size="28.3" fill="#8B3626" text-anchor="middle">0.2</text>
<text transform="translate(670.3,917.1) scale(1,1.07)" font-size="28.3" fill="#8B3626" text-anchor="middle">0.3</text>
<text transform="translate(739.9,917.1) scale(1,1.07)" font-size="28.3" fill="#8B3626" text-anchor="middle">0.4</text>
<text transform="translate(809.5,917.1) scale(1,1.07)" font-size="28.3" fill="#8B3626" text-anchor="middle">0.5</text>
<text transform="translate(879.1,917.1) scale(1,1.07)" font-size="28.3" fill="#8B3626" text-anchor="middle">0.6</text>
<text transform="translate(948.65,917.1) scale(1,1.07)" font-size="28.3" fill="#8B3626" text-anchor="middle">0.7</text>
</g>
<g>
<path d="M984.5 571.9H1399.5" fill="none" stroke="#C9CDCD" stroke-width="2"/>
<path d="M984.5 612.95H1399.5M984.5 692.65H1399.5M984.5 772.35H1399.5M984.5 852.05H1399.5M1011.25 571.3V881.3M1099.7 571.3V881.3M1188.3 571.3V881.3M1277 571.3V881.3M1365.75 571.3V881.3" stroke="#D8BFD8" stroke-width="0.95" fill="none"/>
<path d="M984.5 573.05H1399.5M984.5 652.8H1399.5M984.5 732.5H1399.5M984.5 812.2H1399.5M1055.5 571.3V881.3M1144.1 571.3V881.3M1232.6 571.3V881.3M1321.3 571.3V881.3" stroke="#D8BFD8" stroke-width="1.9" fill="none"/>
<polygon points="1002.5,605.75 1019.1,605.74 1035.8,605.72 1052.5,605.71 1069.1,605.7 1085.8,605.68 1102.4,605.67 1119,605.65 1135.7,605.64 1152.3,605.62 1169,605.6 1184.2,605.4 1199.5,605.19 1214.8,604.97 1230,604.74 1245.2,604.5 1261.5,604.97 1277.8,605.46 1294,605.97 1310.2,606.5 1327.9,607.02 1345.6,607.57 1363.3,608.15 1381,608.75 1381,651.75 1363.3,652.3 1345.6,652.82 1327.9,653.32 1310.2,653.8 1294,654.32 1277.8,654.82 1261.5,655.29 1245.2,655.75 1230,655.63 1214.8,655.52 1199.5,655.41 1184.2,655.3 1169,655.2 1152.3,655.18 1135.7,655.15 1119,655.13 1102.4,655.11 1085.8,655.09 1069.1,655.07 1052.5,655.05 1035.8,655.03 1019.1,655.02 1002.5,655" fill="#A0522D" fill-opacity="0.2"/>
<polygon points="1002.5,713.25 1019.1,713.23 1035.8,713.21 1052.5,713.19 1069.1,713.16 1085.8,713.14 1102.4,713.11 1119,713.09 1135.7,713.06 1152.3,713.03 1169,713 1184.2,712.77 1199.5,712.53 1214.8,712.28 1230,712.02 1245.2,711.75 1261.5,712.16 1277.8,712.59 1294,713.03 1310.2,713.5 1327.9,713.97 1345.6,714.45 1363.3,714.97 1381,715.5 1381,748 1363.3,748.62 1345.6,749.2 1327.9,749.76 1310.2,750.3 1294,750.89 1277.8,751.45 1261.5,751.98 1245.2,752.5 1230,752.28 1214.8,752.08 1199.5,751.88 1184.2,751.68 1169,751.5 1152.3,751.47 1135.7,751.44 1119,751.41 1102.4,751.39 1085.8,751.36 1069.1,751.34 1052.5,751.31 1035.8,751.29 1019.1,751.27 1002.5,751.25" fill="#A0522D" fill-opacity="0.2"/>
<polygon points="1002.5,810.5 1019.1,810.46 1035.8,810.42 1052.5,810.37 1069.1,810.33 1085.8,810.28 1102.4,810.23 1119,810.17 1135.7,810.12 1152.3,810.06 1169,810 1184.2,809.77 1199.5,809.53 1214.8,809.28 1230,809.02 1245.2,808.75 1261.5,809.04 1277.8,809.35 1294,809.67 1310.2,810 1327.9,810.47 1345.6,810.95 1363.3,811.47 1381,812 1381,855.75 1363.3,856.35 1345.6,856.93 1327.9,857.48 1310.2,858 1294,858.53 1277.8,859.04 1261.5,859.53 1245.2,860 1230,859.91 1214.8,859.83 1199.5,859.75 1184.2,859.67 1169,859.6 1152.3,859.58 1135.7,859.55 1119,859.53 1102.4,859.51 1085.8,859.49 1069.1,859.47 1052.5,859.45 1035.8,859.43 1019.1,859.42 1002.5,859.4" fill="#A0522D" fill-opacity="0.2"/>
<polyline points="1002.5,633.75 1009.4,634.28 1016.4,634.82 1023.3,635.37 1030.2,635.93 1037.2,636.49 1044.1,637.07 1051.1,637.66 1058,638.26 1064.9,638.87 1071.9,639.5 1078.8,640.13 1085.8,640.78 1092.7,641.43 1099.6,642.1 1106.6,642.78 1113.5,643.48 1120.4,644.18 1127.4,644.9 1134.3,645.63 1141.2,646.38 1148.2,647.14 1155.1,647.91 1162.1,648.7 1169,649.5 1175.9,649.69 1182.9,649.88 1189.8,650.07 1196.7,650.27 1203.7,650.47 1210.6,650.67 1217.5,650.88 1224.5,651.09 1231.4,651.31 1238.3,651.53 1245.2,651.75 1252.5,649.46 1259.7,647.13 1266.9,644.75 1274.1,642.32 1281.4,639.85 1288.6,637.34 1295.8,634.77 1303,632.16 1310.2,629.5 1317.3,628.67 1324.4,627.83 1331.5,626.97 1338.5,626.1 1345.6,625.21 1352.7,624.3 1359.8,623.38 1366.8,622.43 1373.9,621.48 1381,620.5" fill="none" stroke="#8B1A1A" stroke-width="3.85" stroke-linejoin="miter"/>
<polyline points="1002.5,736.25 1009.4,735.87 1016.4,735.49 1023.3,735.1 1030.2,734.7 1037.2,734.29 1044.1,733.88 1051.1,733.45 1058,733.03 1064.9,732.59 1071.9,732.14 1078.8,731.69 1085.8,731.23 1092.7,730.76 1099.6,730.28 1106.6,729.8 1113.5,729.3 1120.4,728.8 1127.4,728.28 1134.3,727.76 1141.2,727.23 1148.2,726.69 1155.1,726.13 1162.1,725.57 1169,725 1175.9,725.83 1182.9,726.67 1189.8,727.53 1196.7,728.41 1203.7,729.3 1210.6,730.21 1217.5,731.13 1224.5,732.07 1231.4,733.03 1238.3,734.01 1245.2,735 1252.5,733.71 1259.7,732.4 1266.9,731.07 1274.1,729.7 1281.4,728.32 1288.6,726.9 1295.8,725.46 1303,724 1310.2,722.5 1317.3,721.63 1324.4,720.74 1331.5,719.83 1338.5,718.91 1345.6,717.97 1352.7,717.01 1359.8,716.04 1366.8,715.04 1373.9,714.03 1381,713" fill="none" stroke="#8B1A1A" stroke-width="3.85" stroke-linejoin="miter"/>
<polyline points="1002.5,842.5 1009.4,842.79 1016.4,843.09 1023.3,843.4 1030.2,843.71 1037.2,844.02 1044.1,844.35 1051.1,844.67 1058,845.01 1064.9,845.35 1071.9,845.69 1078.8,846.05 1085.8,846.4 1092.7,846.77 1099.6,847.14 1106.6,847.52 1113.5,847.9 1120.4,848.3 1127.4,848.7 1134.3,849.1 1141.2,849.52 1148.2,849.94 1155.1,850.37 1162.1,850.8 1169,851.25 1175.9,850.32 1182.9,849.37 1189.8,848.4 1196.7,847.41 1203.7,846.41 1210.6,845.39 1217.5,844.35 1224.5,843.29 1231.4,842.21 1238.3,841.12 1245.2,840 1252.5,836.58 1259.7,833.09 1266.9,829.53 1274.1,825.91 1281.4,822.22 1288.6,818.46 1295.8,814.63 1303,810.73 1310.2,806.75 1317.3,806.82 1324.4,806.89 1331.5,806.96 1338.5,807.03 1345.6,807.11 1352.7,807.18 1359.8,807.26 1366.8,807.34 1373.9,807.42 1381,807.5" fill="none" stroke="#8B1A1A" stroke-width="3.85" stroke-linejoin="miter"/>
<polyline points="1002.5,605.75 1019.1,605.74 1035.8,605.72 1052.5,605.71 1069.1,605.7 1085.8,605.68 1102.4,605.67 1119,605.65 1135.7,605.64 1152.3,605.62 1169,605.6 1184.2,605.4 1199.5,605.19 1214.8,604.97 1230,604.74 1245.2,604.5 1261.5,604.97 1277.8,605.46 1294,605.97 1310.2,606.5 1327.9,607.02 1345.6,607.57 1363.3,608.15 1381,608.75" fill="none" stroke="#D8BFD8" stroke-width="3.2" stroke-linecap="round" stroke-linejoin="round"/>
<polyline points="1002.5,655 1019.1,655.02 1035.8,655.03 1052.5,655.05 1069.1,655.07 1085.8,655.09 1102.4,655.11 1119,655.13 1135.7,655.15 1152.3,655.18 1169,655.2 1184.2,655.3 1199.5,655.41 1214.8,655.52 1230,655.63 1245.2,655.75 1261.5,655.29 1277.8,654.82 1294,654.32 1310.2,653.8 1327.9,653.32 1345.6,652.82 1363.3,652.3 1381,651.75" fill="none" stroke="#D8BFD8" stroke-width="3.2" stroke-linecap="round" stroke-linejoin="round"/>
<polyline points="1002.5,713.25 1019.1,713.23 1035.8,713.21 1052.5,713.19 1069.1,713.16 1085.8,713.14 1102.4,713.11 1119,713.09 1135.7,713.06 1152.3,713.03 1169,713 1184.2,712.77 1199.5,712.53 1214.8,712.28 1230,712.02 1245.2,711.75 1261.5,712.16 1277.8,712.59 1294,713.03 1310.2,713.5 1327.9,713.97 1345.6,714.45 1363.3,714.97 1381,715.5" fill="none" stroke="#D8BFD8" stroke-width="3.2" stroke-linecap="round" stroke-linejoin="round"/>
<polyline points="1002.5,751.25 1019.1,751.27 1035.8,751.29 1052.5,751.31 1069.1,751.34 1085.8,751.36 1102.4,751.39 1119,751.41 1135.7,751.44 1152.3,751.47 1169,751.5 1184.2,751.68 1199.5,751.88 1214.8,752.08 1230,752.28 1245.2,752.5 1261.5,751.98 1277.8,751.45 1294,750.89 1310.2,750.3 1327.9,749.76 1345.6,749.2 1363.3,748.62 1381,748" fill="none" stroke="#D8BFD8" stroke-width="3.2" stroke-linecap="round" stroke-linejoin="round"/>
<polyline points="1002.5,810.5 1019.1,810.46 1035.8,810.42 1052.5,810.37 1069.1,810.33 1085.8,810.28 1102.4,810.23 1119,810.17 1135.7,810.12 1152.3,810.06 1169,810 1184.2,809.77 1199.5,809.53 1214.8,809.28 1230,809.02 1245.2,808.75 1261.5,809.04 1277.8,809.35 1294,809.67 1310.2,810 1327.9,810.47 1345.6,810.95 1363.3,811.47 1381,812" fill="none" stroke="#D8BFD8" stroke-width="3.2" stroke-linecap="round" stroke-linejoin="round"/>
<polyline points="1002.5,859.4 1019.1,859.42 1035.8,859.43 1052.5,859.45 1069.1,859.47 1085.8,859.49 1102.4,859.51 1119,859.53 1135.7,859.55 1152.3,859.58 1169,859.6 1184.2,859.67 1199.5,859.75 1214.8,859.83 1230,859.91 1245.2,860 1261.5,859.53 1277.8,859.04 1294,858.53 1310.2,858 1327.9,857.48 1345.6,856.93 1363.3,856.35 1381,855.75" fill="none" stroke="#D8BFD8" stroke-width="3.2" stroke-linecap="round" stroke-linejoin="round"/>
<polygon points="1366.7,715.07 1366.8,715.04 1373.9,714.03 1381,713 1381,715.5 1373.9,715.29 1366.8,715.07 1366.7,715.07" fill="#CD2626" stroke="#CD2626" stroke-width="0.8" stroke-linejoin="round"/>
<polygon points="1304.6,809.88 1310.2,806.75 1317.3,806.82 1324.4,806.89 1327.9,806.92 1331.5,806.96 1338.5,807.03 1345.6,807.11 1352.7,807.18 1359.8,807.26 1363.3,807.3 1366.8,807.34 1373.9,807.42 1381,807.5 1381,812 1373.9,811.79 1366.8,811.57 1363.3,811.47 1359.8,811.36 1352.7,811.16 1345.6,810.95 1338.5,810.76 1331.5,810.56 1327.9,810.47 1324.4,810.37 1317.3,810.19 1310.2,810 1304.6,809.88" fill="#CD2626" stroke="#CD2626" stroke-width="0.8" stroke-linejoin="round"/>
<path d="M984.5 570.9V881.3M1399.5 570.9V881.3" fill="none" stroke="#ACACAC" stroke-width="2.5"/>
<rect x="983.35" y="516.2" width="417.3" height="54.8" fill="#A0522D"/>
<text x="1192" y="553.8" font-size="28.45" fill="#ffffff" text-anchor="middle" opacity="0.999">Angiotensin IV (3−8)</text>
<path d="M983.6 881.3H1400.4" stroke="#8B4C39" stroke-width="3.5" fill="none"/>
<path d="M1055.5 882.8V890.5M1144.1 882.8V890.5M1232.6 882.8V890.5M1321.3 882.8V890.5" stroke="#8B4C39" stroke-width="1.9" fill="none"/>
<text transform="translate(1055.5,917.1) scale(1,1.07)" font-size="28.3" fill="#8B3626" text-anchor="middle">0.6</text>
<text transform="translate(1144.1,917.1) scale(1,1.07)" font-size="28.3" fill="#8B3626" text-anchor="middle">0.7</text>
<text transform="translate(1232.6,917.1) scale(1,1.07)" font-size="28.3" fill="#8B3626" text-anchor="middle">0.8</text>
<text transform="translate(1321.3,917.1) scale(1,1.07)" font-size="28.3" fill="#8B3626" text-anchor="middle">0.9</text>
</g>
<text transform="translate(130.7,53.3) scale(1,1.004)" font-size="62.4" fill="#8B3626" font-weight="bold">NPDE</text>
<text transform="translate(41.0,498.7) rotate(-90) scale(1,1.083)" font-size="46.9" font-weight="bold" fill="#8B3626" text-anchor="middle">NPDE</text>
<text x="340.75" y="986.8" font-size="47" fill="#8B3626">concentration<tspan dx="1.2"> prediction</tspan><tspan dx="1"> log</tspan><tspan font-size="33" dx="1.3" dy="8.3">10</tspan><tspan dx="0.3" dy="-8.3" letter-spacing="0.22">(pmol/L)</tspan></text>
</g>
</svg>
</body></html>
